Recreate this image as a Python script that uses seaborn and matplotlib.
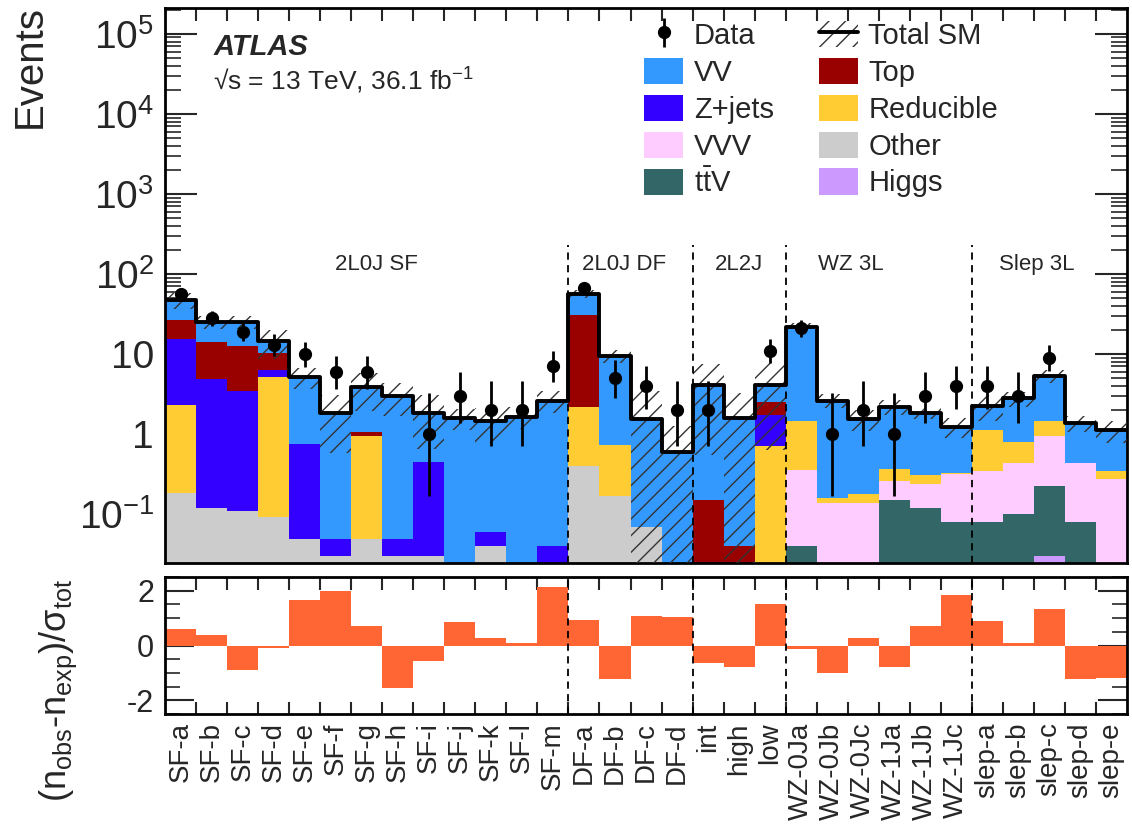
import matplotlib
matplotlib.use("Agg")
import matplotlib.pyplot as plt
from matplotlib.patches import Patch
from matplotlib.lines import Line2D
from matplotlib.ticker import FixedLocator, LogLocator, NullFormatter
import numpy as np
import pandas as pd
import seaborn as sns

# signal/validation region bins
bin_labels = ["SF-a", "SF-b", "SF-c", "SF-d", "SF-e", "SF-f", "SF-g", "SF-h", "SF-i", "SF-j",
              "SF-k", "SF-l", "SF-m", "DF-a", "DF-b", "DF-c", "DF-d", "int", "high", "low",
              "WZ-0Ja", "WZ-0Jb", "WZ-0Jc", "WZ-1Ja", "WZ-1Jb", "WZ-1Jc",
              "slep-a", "slep-b", "slep-c", "slep-d", "slep-e"]

# expected yields per process
vv = [20.9, 11.1, 12.4, 4.1, 4.40, 1.78, 2.81, 2.96, 1.40, 1.585, 1.38, 1.66, 2.59,
      25.7, 8.79, 1.48, 0.606, 3.90, 1.57, 1.62,
      20.3, 2.47, 1.37, 1.84, 1.52, 0.92, 1.13, 1.99, 3.91, 0.93, 0.76]
top = [11.3, 9.1, 9.3, 3.9, 0, 0, 0.10, 0, 0, 0, 0, 0, 0,
       28.8, 0, 0, 0, 0.151, 0.040, 0.80,
       0, 0, 0, 0, 0, 0, 0, 0, 0, 0, 0]
zjets = [13.2, 4.79, 3.30, 1.27, 0.708, 0.019, 0, 0.019, 0.425, 0, 0.02, 0, 0.040,
         0, 0, 0, 0, 0, 0, 1.0,
         0, 0, 0, 0, 0, 0, 0, 0, 0, 0, 0]
reducible = [2.14, 0, 0, 5.01, 0, 0, 0.91, 0, 0, 0, 0, 0, 0,
             1.75, 0.564, 0, 0, 0, 0, 0.714,
             1.11, 0.021, 0.039, 0.107, 0.069, 0.005, 0.785, 0.358, 0.48, 0, 0.077]
vvv = [0, 0, 0, 0, 0, 0, 0, 0, 0, 0, 0, 0, 0,
       0, 0, 0, 0, 0, 0, 0,
       0.318, 0.14, 0.14, 0.11, 0.12, 0.238, 0.264, 0.342, 0.732, 0.361, 0.274]
ttv = [0, 0, 0, 0, 0, 0, 0, 0, 0, 0, 0, 0, 0,
       0, 0, 0, 0, 0, 0, 0,
       0.04, 0, 0, 0.151, 0.121, 0.081, 0.081, 0.10, 0.198, 0.081, 0]
other = [0.183, 0.121, 0.111, 0.091, 0.049, 0.030, 0.049, 0.030, 0.030, 0, 0.040, 0, 0,
         0.402, 0.171, 0.070, 0, 0, 0, 0,
         0, 0, 0, 0, 0, 0, 0, 0, 0, 0, 0]
higgs = [0, 0, 0, 0, 0, 0, 0, 0, 0, 0, 0, 0, 0,
         0, 0, 0, 0, 0, 0, 0,
         0, 0, 0, 0, 0, 0, 0, 0, 0.030, 0, 0]

# uncertainty on total SM
syst_err = [11, 4.4, 4.4, 5.6, 1.5, 1.25, 1.9, 1.3, 1.2, 0.45, 0.67, 0.5, 0.8,
            7.0, 1.8, 1.86, 0.64, 3.5, 1.7, 3.5,
            2.6, 0.5, 0.45, 0.45, 0.3, 0.35, 0.8, 0.6, 1.0, 0.3, 0.33]

data_obs = [56, 28, 19, 13, 10, 6, 6, 0, 1, 3, 2, 2, 7,
            67, 5, 4, 2, 2, 0, 11,
            21, 1, 2, 1, 3, 4, 4, 3, 9, 0, 0]

# 68% poisson interval (low, high) per observed count
poisson_band = {1: (0.17, 3.30), 2: (0.71, 4.64), 3: (1.37, 5.92), 4: (2.09, 7.16),
                5: (2.84, 8.38), 6: (3.62, 9.58), 7: (4.42, 10.77), 9: (6.06, 13.11),
                10: (6.89, 14.27), 11: (7.73, 15.42), 13: (9.44, 17.70), 19: (14.67, 24.44),
                21: (16.44, 26.67), 28: (22.73, 34.36), 56: (48.53, 64.53), 67: (58.83, 76.23)}

significance = [0.6, 0.39, -0.9, -0.08, 1.67, 2.0, 0.73, -1.54, -0.56, 0.85, 0.29, 0.1, 2.13,
                0.92, -1.23, 1.09, 1.04, -0.62, -0.77, 1.51,
                -0.11, -1.0, 0.27, -0.8, 0.70, 1.85, 0.91, 0.1, 1.32, -1.23, -1.17]

region_names = ["2L0J SF", "2L0J DF", "2L2J", "WZ 3L", "Slep 3L"]
region_pos = [6.3, 14.3, 18.0, 21.6, 27.6]
region_edges = [12.5, 16.5, 19.5, 25.5]

sns.set_theme(style="ticks")
plt.rcParams["font.family"] = ["Liberation Sans", "DejaVu Sans"]
plt.rcParams["mathtext.fontset"] = "custom"
plt.rcParams["mathtext.rm"] = "Liberation Sans"
plt.rcParams["mathtext.it"] = "Liberation Sans:italic"
plt.rcParams["mathtext.bf"] = "Liberation Sans:bold"
plt.rcParams["mathtext.default"] = "regular"
plt.rcParams["hatch.linewidth"] = 1.0

processes = {"VV": vv, "Top": top, "Z+jets": zjets, "Reducible": reducible,
             "VVV": vvv, "ttV": ttv, "Other": other, "Higgs": higgs}
colors = {"VV": "#3399ff", "Top": "#990000", "Z+jets": "#3300ff", "Reducible": "#ffcc33",
          "VVV": "#ffccff", "ttV": "#336666", "Other": "#cccccc", "Higgs": "#cc99ff"}

n_bins = len(bin_labels)
x = np.arange(n_bins)
rows = []
for name, vals in processes.items():
    for i, v in enumerate(vals):
        rows.append({"bin": i, "process": name, "events": v})
df = pd.DataFrame(rows)
total = np.sum([np.array(v, dtype=float) for v in processes.values()], axis=0)
err = np.array(syst_err)
data = np.array(data_obs)

fig = plt.figure(figsize=(11.32, 8.25), dpi=100)
ax = fig.add_axes([0.1458, 0.3176, 0.8498, 0.6727])
ax2 = fig.add_axes([0.1458, 0.1345, 0.8498, 0.166])

# stacked backgrounds (first hue level ends on top)
sns.histplot(data=df, x="bin", weights="events", hue="process", hue_order=list(processes),
             palette=colors, multiple="stack", discrete=True, element="bars", shrink=1,
             linewidth=0, alpha=1, legend=False, ax=ax)

# hatched uncertainty band
band_lo = np.maximum(total - err, 1e-3)
ax.bar(x, total + err - band_lo, bottom=band_lo, width=1.0, fill=False, hatch="//",
       edgecolor="#333333", linewidth=0, zorder=3)

# total SM line
sns.histplot(x=x, weights=total, discrete=True, element="step", fill=False,
             color="black", linewidth=2.8, ax=ax, zorder=4)

# data points
mask = data > 0
d = data[mask]
yerr = [[n - poisson_band[n][0] for n in d], [poisson_band[n][1] - n for n in d]]
data_handle = ax.errorbar(x[mask], d, yerr=yerr, fmt="o", color="black", markersize=8.5,
                          elinewidth=2.0, capsize=0, zorder=5)

ax.set_yscale("log")
ymin, ymax = 0.0246, 2.1e5
ax.set_ylim(ymin, ymax)
ax.set_xlim(-0.5, n_bins - 0.5)
ax.set_xlabel("")
ax.set_ylabel("")
ax.set_yticks([0.1, 1, 10, 1e2, 1e3, 1e4, 1e5])
ax.set_yticklabels(["$10^{-1}$", "1", "10", "$10^{2}$", "$10^{3}$", "$10^{4}$", "$10^{5}$"])
ax.yaxis.set_minor_locator(LogLocator(base=10, subs=np.arange(2, 10), numticks=20))
ax.yaxis.set_minor_formatter(NullFormatter())
ax.set_xticks([])
ax.xaxis.set_minor_locator(FixedLocator(np.arange(0.5, n_bins - 1, 1)))
ax.tick_params(axis="y", which="major", direction="in", left=True, right=True,
               length=23, width=1.5, labelsize=28, pad=8)
ax.tick_params(axis="y", which="minor", direction="in", left=True, right=True,
               length=11.5, width=1.2)
ax.tick_params(axis="x", which="minor", direction="in", top=True, bottom=True,
               length=9, width=1.5)

for b in region_edges:
    ax.vlines(b, ymin, 230, colors="black", linestyles=(0, (4, 3)), linewidth=1.3, zorder=6)
    ax2.axvline(b, color="black", linestyle=(0, (4, 3)), linewidth=1.3, zorder=6)
for name, pos in zip(region_names, region_pos):
    ax.text(pos, 131, name, ha="center", va="center", fontsize=16)

ax.text(0.05, 0.93, "ATLAS", transform=ax.transAxes, fontsize=21, fontweight="bold",
        fontstyle="italic", va="center")
ax.text(0.05, 0.868, "√s = 13 TeV, 36.1 fb$^{-1}$", transform=ax.transAxes,
        fontsize=19, va="center")

# legend, column-major order for 2 columns
total_handle = (Patch(facecolor="white", edgecolor="#333333", hatch="//", linewidth=0),
                Line2D([], [], color="black", linewidth=2.8))
patch = {k: Patch(facecolor=c, edgecolor="none") for k, c in colors.items()}
handles = [data_handle, patch["VV"], patch["Z+jets"], patch["VVV"], patch["ttV"],
           total_handle, patch["Top"], patch["Reducible"], patch["Other"], patch["Higgs"]]
labels = ["Data", "VV", "Z+jets", "VVV", r"$t\bar{t}V$",
          "Total SM", "Top", "Reducible", "Other", "Higgs"]
ax.legend(handles, labels, ncol=2, loc="upper left", bbox_to_anchor=(0.498, 0.977),
          frameon=False, fontsize=21, borderaxespad=0, borderpad=0,
          handlelength=1.35, handleheight=1.0, labelspacing=0.27,
          columnspacing=1.55, handletextpad=0.35)

# significance panel
sns.barplot(x=bin_labels, y=significance, color="#ff6633", saturation=1, width=1.0,
            linewidth=0, ax=ax2)
ax2.set_xlim(-0.5, n_bins - 0.5)
ax2.set_ylim(-2.5, 2.5)
ax2.set_xlabel("")
ax2.set_ylabel("")
ax2.set_yticks([-2, 0, 2])
ax2.set_yticklabels(["-2", "0", "2"])
ax2.yaxis.set_minor_locator(FixedLocator(np.arange(-2.5, 2.51, 0.5)))
ax2.xaxis.set_minor_locator(FixedLocator(np.arange(0.5, n_bins - 1, 1)))
ax2.tick_params(axis="y", which="major", direction="in", left=True, right=True,
                length=21, width=1.5, labelsize=22, pad=8)
ax2.tick_params(axis="y", which="minor", direction="in", left=True, right=True,
                length=10.5, width=1.2)
ax2.tick_params(axis="x", which="major", length=0, labelsize=20, labelrotation=90, pad=6)
ax2.tick_params(axis="x", which="minor", direction="in", top=True, bottom=True,
                length=9, width=1.5)

for a in (ax, ax2):
    for s in a.spines.values():
        s.set_linewidth(2)
        s.set_color("black")

fig.text(30 / 1132, 1 - 5 / 825, "Events", rotation=90, ha="center", va="top", fontsize=29)
fig.text(58 / 1132, 1 - 690 / 825, "(n$_{obs}$-n$_{exp}$)/σ$_{tot}$", rotation=90,
         ha="center", va="center", fontsize=26)

fig.savefig("out.png", dpi=100)
